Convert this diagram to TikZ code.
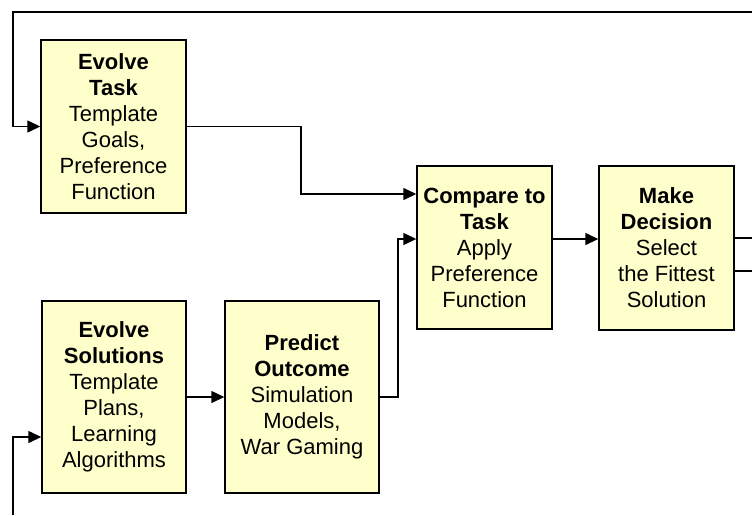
\documentclass[tikz,border=0pt]{standalone}
\usepackage{fontspec}
\setmainfont{Liberation Sans}
\usetikzlibrary{arrows.meta}
\definecolor{boxfill}{RGB}{255,255,204}
\begin{document}
\begin{tikzpicture}[x=1pt,y=-1pt]
  \tikzset{
    stage/.style={draw=black, line width=1.4pt, fill=boxfill, align=center,
      inner sep=0pt, font=\fontsize{22}{26}\selectfont},
    flow/.style={line width=1.4pt, -{Triangle[length=13pt,width=12pt]}},
    link/.style={line width=1.4pt}
  }
  \useasboundingbox (0,0) rectangle (752,515);

  \node [stage, minimum width=145pt, minimum height=173pt] (task) at (113.5,126.5)
    {\textbf{Evolve}\\\textbf{Task}\\Template\\Goals,\\Preference\\Function};
  \node [stage, minimum width=144pt, minimum height=192pt] (solutions) at (114,397)
    {\textbf{Evolve}\\\textbf{Solutions}\\Template\\Plans,\\Learning\\Algorithms};
  \node [stage, minimum width=154pt, minimum height=192pt] (predict) at (302,397)
    {\textbf{Predict}\\\textbf{Outcome}\\Simulation\\Models,\\War Gaming};
  \node [stage, minimum width=135pt, minimum height=163pt] (compare) at (484.5,247.5)
    {\textbf{Compare to}\\\textbf{Task}\\Apply\\Preference\\Function};
  \node [stage, minimum width=135pt, minimum height=164pt] (decide) at (666.5,248)
    {\textbf{Make}\\\textbf{Decision}\\Select\\the Fittest\\Solution};

  % loose ends of the feedback loops
  \coordinate (topright) at (752,12);
  \coordinate (outhigh) at (752,238);
  \coordinate (outlow) at (752,271);
  \coordinate (bottomleft) at (13,515);

  \draw [flow] (topright) -- (13,12) |- (task.west);
  \draw [flow] (bottomleft) |- (solutions.west |- 0,437);
  \draw [flow] (task.east) -- (301,126.5) |- (compare.west |- 0,194);
  \draw [flow] (solutions.east) -- (predict.west);
  \draw [flow] (predict.east) -- (398,397) |- (compare.west |- 0,239);
  \draw [flow] (compare.east |- 0,239) -- (decide.west |- 0,239);
  \draw [link] (decide.east |- outhigh) -- (outhigh);
  \draw [link] (decide.east |- outlow) -- (outlow);
\end{tikzpicture}
\end{document}
